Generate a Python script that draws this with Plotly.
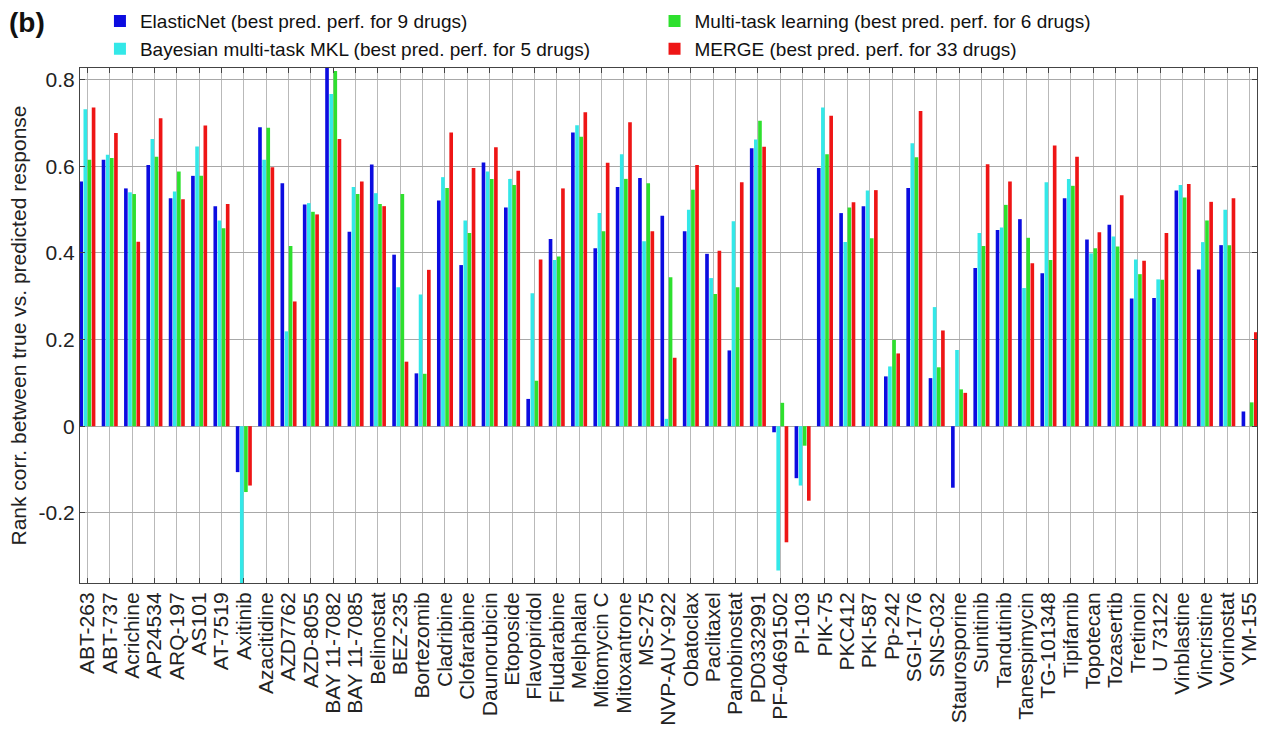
import plotly.graph_objects as go

# Drugs on the x axis
drugs = [
    "ABT-263", "ABT-737", "Acrichine", "AP24534", "ARQ-197", "AS101", "AT-7519",
    "Axitinib", "Azacitidine", "AZD7762", "AZD-8055", "BAY 11-7082", "BAY 11-7085",
    "Belinostat", "BEZ-235", "Bortezomib", "Cladribine", "Clofarabine",
    "Daunorubicin", "Etoposide", "Flavopiridol", "Fludarabine", "Melphalan",
    "Mitomycin C", "Mitoxantrone", "MS-275", "NVP-AUY-922", "Obatoclax",
    "Paclitaxel", "Panobinostat", "PD0332991", "PF-04691502", "PI-103", "PIK-75",
    "PKC412", "PKI-587", "Pp-242", "SGI-1776", "SNS-032", "Staurosporine",
    "Sunitinib", "Tandutinib", "Tanespimycin", "TG-101348", "Tipifarnib",
    "Topotecan", "Tozasertib", "Tretinoin", "U 73122", "Vinblastine",
    "Vincristine", "Vorinostat", "YM-155",
]

# Rank correlation between true and predicted response, per method
elastic_net = [
    0.565, 0.615, 0.549, 0.603, 0.526, 0.578, 0.508, -0.106, 0.690, 0.561,
    0.512, 0.860, 0.449, 0.604, 0.396, 0.122, 0.521, 0.372, 0.609, 0.505,
    0.063, 0.432, 0.678, 0.411, 0.552, 0.573, 0.486, 0.450, 0.398, 0.175,
    0.642, -0.014, -0.120, 0.596, 0.492, 0.508, 0.115, 0.550, 0.111, -0.142,
    0.365, 0.453, 0.478, 0.353, 0.526, 0.431, 0.465, 0.295, 0.296, 0.544,
    0.362, 0.418, 0.034,
]
bayes_mkl = [
    0.732, 0.627, 0.540, 0.663, 0.542, 0.646, 0.475, -0.380, 0.615, 0.219,
    0.515, 0.767, 0.552, 0.538, 0.321, 0.304, 0.575, 0.475, 0.588, 0.571,
    0.307, 0.384, 0.695, 0.492, 0.628, 0.427, 0.017, 0.500, 0.342, 0.473,
    0.662, -0.333, -0.137, 0.736, 0.425, 0.544, 0.138, 0.653, 0.275, 0.176,
    0.446, 0.459, 0.319, 0.563, 0.571, 0.399, 0.438, 0.385, 0.339, 0.557,
    0.425, 0.500, 0.000,
]
multitask = [
    0.615, 0.619, 0.536, 0.622, 0.588, 0.578, 0.457, -0.152, 0.689, 0.416,
    0.495, 0.820, 0.536, 0.513, 0.536, 0.121, 0.550, 0.446, 0.571, 0.557,
    0.105, 0.392, 0.668, 0.450, 0.571, 0.561, 0.344, 0.546, 0.305, 0.321,
    0.705, 0.054, -0.045, 0.628, 0.505, 0.434, 0.199, 0.621, 0.136, 0.085,
    0.416, 0.511, 0.435, 0.384, 0.555, 0.411, 0.415, 0.351, 0.338, 0.528,
    0.475, 0.418, 0.055,
]
merge = [
    0.736, 0.677, 0.426, 0.711, 0.524, 0.694, 0.513, -0.137, 0.598, 0.288,
    0.489, 0.663, 0.565, 0.508, 0.149, 0.361, 0.678, 0.596, 0.644, 0.590,
    0.385, 0.549, 0.725, 0.608, 0.702, 0.450, 0.158, 0.603, 0.405, 0.563,
    0.645, -0.268, -0.172, 0.717, 0.517, 0.545, 0.168, 0.728, 0.221, 0.077,
    0.605, 0.565, 0.376, 0.648, 0.622, 0.448, 0.533, 0.382, 0.446, 0.559,
    0.518, 0.526, 0.217,
]

y_ticks = [-0.2, 0, 0.2, 0.4, 0.6, 0.8]
y_ticktext = ["-0.2", "0", "0.2", "0.4", "0.6", "0.8"]

FONT = "Liberation Sans, Arial, sans-serif"

series = [
    ("ElasticNet (best pred. perf. for 9 drugs)", elastic_net, "#0c0ce0", "legend"),
    ("Bayesian multi-task MKL (best pred. perf. for 5 drugs)", bayes_mkl, "#33e8e8", "legend"),
    ("Multi-task learning (best pred. perf. for 6 drugs)", multitask, "#2ee02e", "legend2"),
    ("MERGE (best pred. perf. for 33 drugs)", merge, "#ee1515", "legend2"),
]

fig = go.Figure()
for name, vals, color, leg in series:
    fig.add_trace(go.Bar(
        x=drugs, y=vals, name=name, legend=leg,
        marker=dict(color=color, line=dict(width=0)),
    ))

W, H = 1262, 734
L, R, T, B = 80, 2, 67, 151
ph = H - T - B

def py(pix):
    return 1 + (T - pix) / ph

def px(pix):
    return (pix - L) / (W - L - R)

legend_style = dict(
    font=dict(family=FONT, size=19, color="#111"),
    bgcolor="rgba(0,0,0,0)", borderwidth=0,
    orientation="v", yanchor="top", xanchor="left",
    tracegroupgap=0, itemwidth=30,
)

fig.update_layout(
    width=W, height=H,
    margin=dict(l=L, r=R, t=T, b=B),
    paper_bgcolor="white", plot_bgcolor="white",
    font=dict(family=FONT, size=21, color="#222"),
    barmode="group", bargap=0.26, bargroupgap=0.12,
    showlegend=True,
    legend=dict(x=px(100), y=py(1), **legend_style),
    legend2=dict(x=px(656), y=py(1), **legend_style),
    xaxis=dict(
        type="category", range=[-0.33, len(drugs) - 1 + 0.33],
        tickmode="array", tickvals=drugs, ticktext=drugs,
        tickangle=-90, tickfont=dict(family=FONT, size=21, color="#222"),
        showgrid=True, gridcolor="#b9b9b9", gridwidth=1,
        showline=True, linecolor="#444", linewidth=1, mirror="allticks",
        ticks="inside", ticklen=5, tickcolor="#444",
    ),
    yaxis=dict(
        range=[-0.362, 0.827],
        tickvals=y_ticks, ticktext=y_ticktext,
        tickfont=dict(family=FONT, size=21, color="#222"),
        showgrid=True, gridcolor="#a8a8a8", gridwidth=1, zeroline=False,
        showline=True, linecolor="#444", linewidth=1, mirror="allticks",
        ticks="inside", ticklen=5, tickcolor="#444",
        title=dict(text="Rank corr. between true vs. predicted response",
                   font=dict(family=FONT, size=21, color="#222"), standoff=6),
    ),
)

fig.add_annotation(
    text="<b>(b)</b>", xref="paper", yref="paper",
    x=px(7), y=py(21), xanchor="left", yanchor="middle",
    showarrow=False, font=dict(family=FONT, size=28, color="#111"),
)

fig.write_html("out.html")
